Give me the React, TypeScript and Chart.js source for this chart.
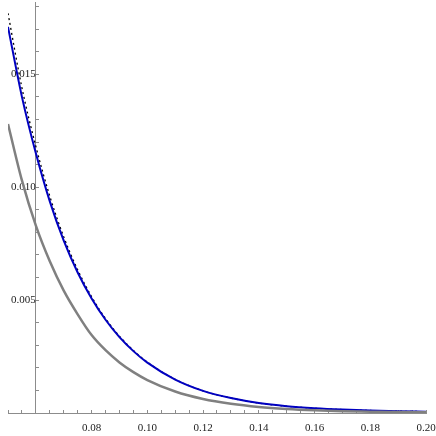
import React, { useEffect, useRef } from "react";
import { Chart, registerables } from "chart.js";

Chart.register(...registerables);

const xValues = [0.05, 0.055, 0.06, 0.065, 0.07, 0.075, 0.08, 0.085, 0.09, 0.095, 0.1, 0.11, 0.12, 0.13, 0.14, 0.15, 0.16, 0.17, 0.18, 0.19, 0.2];
const blueValues = [0.0171, 0.014, 0.0115, 0.00937, 0.00763, 0.00622, 0.00507, 0.00413, 0.00336, 0.00274, 0.00223, 0.00148, 0.00098, 0.00066, 0.00044, 0.0003, 0.00021, 0.00015, 0.00011, 0.00008, 0.00006];
const grayValues = [0.0128, 0.0103, 0.0083, 0.00672, 0.00542, 0.00437, 0.00345, 0.00278, 0.00224, 0.00181, 0.00146, 0.00095, 0.00062, 0.00041, 0.00027, 0.00018, 0.00012, 0.00008, 0.00006, 0.00004, 0.00003];
const dashedValues = [0.0177, 0.0144, 0.0118, 0.0096, 0.0078, 0.00634, 0.00515, 0.00418, 0.0034, 0.00277, 0.00225, 0.00149, 0.00098, 0.00066, 0.00044, 0.0003, 0.00021, 0.00015, 0.00011, 0.00008, 0.00006];
const xTickLabels = ["0.08", "0.10", "0.12", "0.14", "0.16", "0.18", "0.20"];
const yTickLabels = ["0.005", "0.010", "0.015"];

const pts = (ys: number[]) => xValues.map((x, i) => ({ x, y: ys[i] }));

const zeroPad = (s: any) => {
  s.paddingLeft = 0;
  s.paddingRight = 0;
  s.paddingTop = 0;
  s.paddingBottom = 0;
};

export default function App() {
  const ref = useRef<HTMLCanvasElement | null>(null);
  useEffect(() => {
    if (!ref.current) return;
    const font = { family: "'Liberation Serif', 'DejaVu Serif', serif", size: 11 };
    const chart = new Chart(ref.current, {
      type: "line",
      data: {
        datasets: [
          { data: pts(grayValues), borderColor: "#808080", borderWidth: 2.5, pointRadius: 0, tension: 0.4, cubicInterpolationMode: "monotone" },
          { data: pts(blueValues), borderColor: "#0000c0", borderWidth: 2, pointRadius: 0, tension: 0.4, cubicInterpolationMode: "monotone" },
          { data: pts(dashedValues), borderColor: "#000000", borderWidth: 1.3, borderDash: [2, 3], pointRadius: 0, tension: 0.4, cubicInterpolationMode: "monotone" },
        ],
      },
      options: {
        animation: false,
        responsive: false,
        layout: { padding: { left: 8, right: 10, top: 2, bottom: 23 } },
        plugins: { legend: { display: false }, tooltip: { enabled: false } },
        scales: {
          x: {
            type: "linear",
            min: 0.05,
            max: 0.2,
            position: { y: 0 },
            afterFit: zeroPad,
            border: { display: true, color: "#8c8c8c", width: 1 },
            grid: { drawOnChartArea: false, tickLength: -4, tickColor: "#8c8c8c" },
            ticks: {
              stepSize: 0.005,
              includeBounds: false,
              autoSkip: false,
              maxRotation: 0,
              padding: 13,
              color: "#222",
              font,
              callback: (v: any) => {
                const k = Math.round(Number(v) * 1000);
                if (k % 20 !== 0 || k < 80) return "";
                return xTickLabels[(k - 80) / 20] ?? "";
              },
            },
          },
          y: {
            type: "linear",
            min: 0,
            max: 0.0182,
            position: { x: 0.06 },
            afterFit: zeroPad,
            border: { display: true, color: "#8c8c8c", width: 1 },
            grid: { drawOnChartArea: false, tickLength: -4, tickColor: "#8c8c8c" },
            ticks: {
              stepSize: 0.001,
              includeBounds: false,
              autoSkip: false,
              padding: 2,
              color: "#222",
              font,
              callback: (v: any) => {
                const k = Math.round(Number(v) * 1000);
                if (k % 5 !== 0 || k === 0) return "";
                return yTickLabels[k / 5 - 1] ?? "";
              },
            },
          },
        },
      },
    } as any);
    return () => chart.destroy();
  }, []);
  return (
    <div style={{ position: "fixed", left: 0, top: 0, width: 436, height: 436, background: "#fff" }}>
      <canvas ref={ref} width={436} height={436} style={{ display: "block" }} />
    </div>
  );
}
